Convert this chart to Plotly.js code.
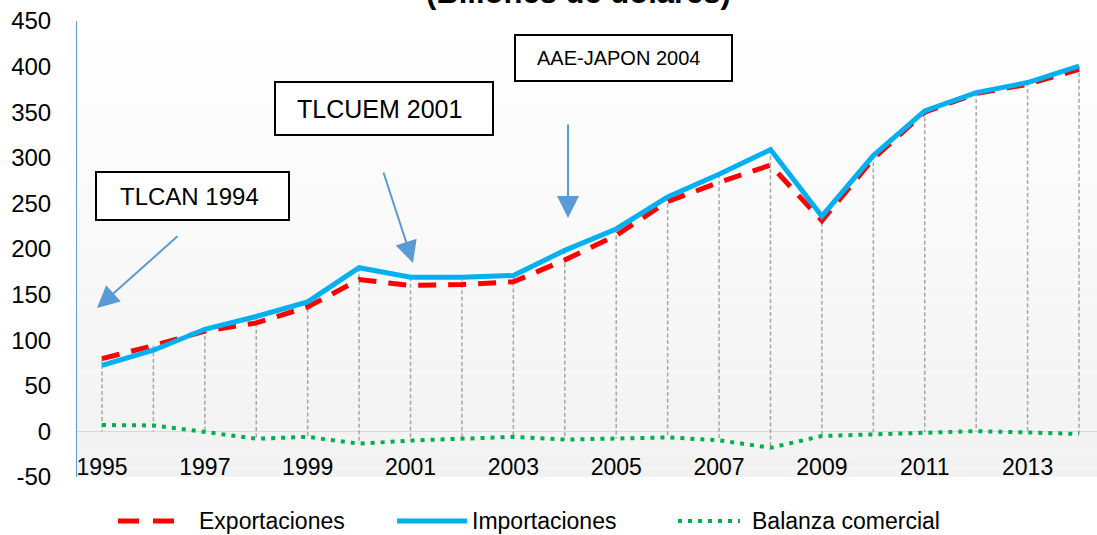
<!DOCTYPE html>
<html><head><meta charset="utf-8">
<script src="https://cdn.plot.ly/plotly-3.0.1.min.js"></script>
<style>html,body{margin:0;padding:0;background:#fff}#chart{width:1097px;height:535px}</style>
</head><body><div id="chart"></div>
<script>
// ---- data (billones de dólares) ----
const years = [1995,1996,1997,1998,1999,2000,2001,2002,2003,2004,2005,2006,2007,2008,2009,2010,2011,2012,2013,2014];
const exportaciones = [79.8,94,110,119,136.4,166.4,160,161,164,188,215,252,273,292,231,299,350,370.5,380.5,397];
const importaciones = [72.5,89,112,126,142,179.5,169,169,171,198.5,222,257,282,309,236,302.5,351.5,371.5,382.5,400.5];
const balanza = [7,6.5,-0.6,-8,-6,-13.5,-10,-8,-6,-9,-7.8,-6.6,-9.7,-18,-5,-3,-0.8,0.3,-1.2,-2.8];
const xTickVals = [1995,1997,1999,2001,2003,2005,2007,2009,2011,2013];
const xTickText = ['1995','1997','1999','2001','2003','2005','2007','2009','2011','2013'];
const yTickVals = [-50,0,50,100,150,200,250,300,350,400,450];
const yTickText = ['-50','0','50','100','150','200','250','300','350','400','450'];
const seriesNames = ['Exportaciones','Importaciones','Balanza comercial'];
const noteTexts = ['TLCAN 1994','TLCUEM 2001','AAE-JAPON 2004'];
const titleText = '(Billones de dólares)';

// ---- geometry helpers (pixels -> paper) ----
const W=1097,H=535,L=77,R=0,T=21,B=58;
const pw=W-L-R, ph=H-T-B;
const px = x => (x-L)/pw;
const py = y => (H-B-y)/ph;
const FONT = 'Liberation Sans, Arial, sans-serif';
const COL = {exp:'#ff0000', imp:'#00b0f0', bal:'#00b050', drop:'#a6a6a6', arrow:'#5b9bd5'};

// drop lines built from the data
const dropX=[], dropY=[];
years.forEach((yr,i)=>{
  dropX.push(yr,yr,null);
  dropY.push(Math.max(exportaciones[i],importaciones[i]), Math.min(balanza[i],0), null);
});

const traces = [
  {x:dropX, y:dropY, mode:'lines', line:{color:COL.drop,width:1.5,dash:'4px,2.5px'}, hoverinfo:'skip', showlegend:false},
  {x:years, y:balanza, name:seriesNames[2], mode:'lines', line:{color:COL.bal,width:4,dash:'4px,6px'}},
  {x:years, y:exportaciones, name:seriesNames[0], mode:'lines', line:{color:COL.exp,width:5,dash:'18px,12px'}},
  {x:years, y:importaciones, name:seriesNames[1], mode:'lines', line:{color:COL.imp,width:5}}
];

const shapes=[];
const N=48;
for(let i=0;i<N;i++){
  const c=Math.round(255-(255-242)*((i+0.5)/N));
  shapes.push({type:'rect',xref:'paper',yref:'paper',x0:0,x1:1,y0:1-(i+1)/N,y1:1-i/N,
    fillcolor:`rgb(${c},${c},${c})`,line:{width:0},layer:'below'});
}
// note boxes
const boxes=[[96,289,172,220],[275,493,82,135],[515,732,35,81]];
boxes.forEach(b=>shapes.push({type:'rect',xref:'paper',yref:'paper',x0:px(b[0]),x1:px(b[1]),y0:py(b[3]),y1:py(b[2]),
  line:{color:'#000',width:2},fillcolor:'#fff',layer:'above'}));
// legend symbols
const LY=521;
shapes.push({type:'line',xref:'paper',yref:'paper',x0:px(118),x1:px(176),y0:py(LY),y1:py(LY),line:{color:COL.exp,width:5,dash:'21px,14px'}});
shapes.push({type:'line',xref:'paper',yref:'paper',x0:px(397),x1:px(467),y0:py(LY),y1:py(LY),line:{color:COL.imp,width:5}});
shapes.push({type:'line',xref:'paper',yref:'paper',x0:px(678),x1:px(740),y0:py(LY),y1:py(LY),line:{color:COL.bal,width:4,dash:'4px,6px'}});

const annotations=[];
const noteGeo=[[118,196,24],[295,109,25],[535,58,20]];
noteTexts.forEach((t,i)=>annotations.push({text:t,xref:'paper',yref:'paper',x:px(noteGeo[i][0]),y:py(noteGeo[i][1]),
  xanchor:'left',yanchor:'middle',showarrow:false,font:{family:FONT,size:noteGeo[i][2],color:'#000'}}));
// arrows [tipX,tipY,tailX,tailY]
const arrows=[[97,308,179,235],[413,263,383,171],[568,218,568,123]];
arrows.forEach(a=>annotations.push({text:'',xref:'paper',yref:'paper',x:px(a[0]),y:py(a[1]),ax:a[2]-a[0],ay:a[3]-a[1],
  showarrow:true,arrowhead:2,arrowsize:2.2,arrowwidth:2,arrowcolor:COL.arrow,standoff:0}));
// legend texts
[[197,seriesNames[0]],[470,seriesNames[1]],[750,seriesNames[2]]].forEach(l=>annotations.push({text:l[1],xref:'paper',yref:'paper',
  x:px(l[0]),y:py(LY),xanchor:'left',yanchor:'middle',showarrow:false,font:{family:FONT,size:23,color:'#000'}}));
// title (cut off at top as in the source)
annotations.push({text:'<b>'+titleText+'</b>',xref:'paper',yref:'paper',x:px(578),y:py(12),xanchor:'center',yanchor:'bottom',
  showarrow:false,font:{family:FONT,size:31,color:'#000'}});

const layout={
  width:W,height:H,margin:{l:L,r:R,t:T,b:B},
  paper_bgcolor:'#fff',plot_bgcolor:'#fff',showlegend:false,
  font:{family:FONT,color:'#000'},
  xaxis:{range:[1994.514,2014.35],tickmode:'array',tickvals:xTickVals,ticktext:xTickText,
    anchor:'free',position:py(451),
    showgrid:false,zeroline:false,showline:false,ticks:'',tickfont:{family:FONT,size:23,color:'#000'}},
  yaxis:{range:[-50,450],tickmode:'array',tickvals:yTickVals,ticktext:yTickText,showgrid:false,
    zeroline:true,zerolinecolor:'#d9d9d9',zerolinewidth:1.5,showline:true,linecolor:COL.arrow,linewidth:1,
    ticks:'',ticklabelstandoff:20,tickfont:{family:FONT,size:24,color:'#000'}},
  shapes:shapes,annotations:annotations
};
Plotly.newPlot('chart',traces,layout,{displayModeBar:false,staticPlot:true});
</script></body></html>
